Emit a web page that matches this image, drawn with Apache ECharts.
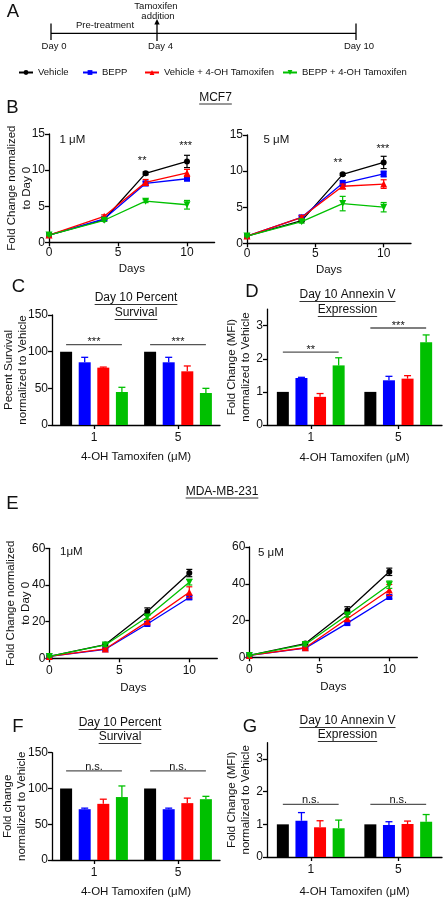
<!DOCTYPE html>
<html><head><meta charset="utf-8">
<script src="https://cdn.jsdelivr.net/npm/echarts@6/dist/echarts.min.js"></script>
<style>html,body{margin:0;padding:0;background:#fff}#c{width:444px;height:900px}</style>
</head><body><div id="c"></div>
<script>
// ---------------- DATA ----------------
const seriesNames = ['Vehicle', 'BEPP', 'Vehicle + 4-OH Tamoxifen', 'BEPP + 4-OH Tamoxifen'];
const days = [0, 4, 7, 10];
const dayTicks = [0, 5, 10];
const doseCategories = ['1', '5'];

// MCF7, 1 uM (panel B left)
const mcf7_1uM_vehicle = [1, 3.15, 9.55, 11.2];
const mcf7_1uM_bepp = [1, 3.25, 8.15, 8.8];
const mcf7_1uM_vehTam = [1, 3.6, 8.3, 9.6];
const mcf7_1uM_beppTam = [1, 3.05, 5.7, 5.2];
const mcf7_1uM_vehicleErr = [0.1, 0.15, 0.2, 0.85];
const mcf7_1uM_beppErr = [0.1, 0.15, 0.3, 0.2];
const mcf7_1uM_vehTamErr = [0.1, 0.2, 0.4, 0.5];
const mcf7_1uM_beppTamErr = [0.1, 0.15, 0.2, 0.6];

// MCF7, 5 uM (panel B right)
const mcf7_5uM_vehicle = [1, 3.15, 9.55, 11.2];
const mcf7_5uM_bepp = [1, 3.6, 8.3, 9.6];
const mcf7_5uM_vehTam = [1, 3.6, 7.9, 8.2];
const mcf7_5uM_beppTam = [1, 3.0, 5.5, 5.0];
const mcf7_5uM_vehicleErr = [0.1, 0.15, 0.15, 0.85];
const mcf7_5uM_beppErr = [0.1, 0.2, 0.4, 0.4];
const mcf7_5uM_vehTamErr = [0.1, 0.25, 0.3, 0.6];
const mcf7_5uM_beppTamErr = [0.1, 0.2, 1.0, 0.65];

// MDA-MB-231, 1 uM (panel E left)
const mda_1uM_vehicle = [1, 7.5, 25.5, 46.5];
const mda_1uM_bepp = [1, 4.9, 18.7, 33.2];
const mda_1uM_vehTam = [1, 5.1, 20, 36];
const mda_1uM_beppTam = [1, 7.3, 22.5, 41.5];
const mda_1uM_vehicleErr = [0.3, 0.8, 2, 2];
const mda_1uM_beppErr = [0.3, 0.5, 1, 1];
const mda_1uM_vehTamErr = [0.3, 0.5, 1, 3];
const mda_1uM_beppTamErr = [0.3, 0.8, 1, 1.5];

// MDA-MB-231, 5 uM (panel E right)
const mda_5uM_vehicle = [1, 7.5, 25.5, 46.5];
const mda_5uM_bepp = [1, 5.0, 18.6, 32.8];
const mda_5uM_vehTam = [1, 5.2, 21, 36.6];
const mda_5uM_beppTam = [1, 7.0, 23, 39.5];
const mda_5uM_vehicleErr = [0.3, 0.8, 2, 2];
const mda_5uM_beppErr = [0.3, 0.5, 1, 1];
const mda_5uM_vehTamErr = [0.3, 0.5, 1, 3];
const mda_5uM_beppTamErr = [0.3, 0.8, 1, 2];

// Panel C: MCF7 day 10 percent survival (per dose: 1, 5)
const mcf7Surv_vehicle = [100, 100];
const mcf7Surv_bepp = [85.5, 85.5];
const mcf7Surv_vehTam = [78.2, 73.2];
const mcf7Surv_beppTam = [45, 43.6];
const mcf7Surv_vehicleErr = [0, 0];
const mcf7Surv_beppErr = [6.8, 6.8];
const mcf7Surv_vehTamErr = [0.8, 7.3];
const mcf7Surv_beppTamErr = [6.4, 6.4];

// Panel D: MCF7 day 10 Annexin V
const mcf7Anx_vehicle = [1, 1];
const mcf7Anx_bepp = [1.42, 1.35];
const mcf7Anx_vehTam = [0.85, 1.40];
const mcf7Anx_beppTam = [1.80, 2.50];
const mcf7Anx_vehicleErr = [0, 0];
const mcf7Anx_beppErr = [0.02, 0.12];
const mcf7Anx_vehTamErr = [0.10, 0.09];
const mcf7Anx_beppTamErr = [0.23, 0.22];

// Panel F: MDA-MB-231 day 10 percent survival
const mdaSurv_vehicle = [100, 100];
const mdaSurv_bepp = [71, 71];
const mdaSurv_vehTam = [78.5, 79.5];
const mdaSurv_beppTam = [88, 85];
const mdaSurv_vehicleErr = [0, 0];
const mdaSurv_beppErr = [1.5, 1.5];
const mdaSurv_vehTamErr = [6.5, 7];
const mdaSurv_beppTamErr = [15.5, 4];

// Panel G: MDA-MB-231 day 10 Annexin V
const mdaAnx_vehicle = [1, 1];
const mdaAnx_bepp = [1.11, 0.98];
const mdaAnx_vehTam = [0.91, 1.01];
const mdaAnx_beppTam = [0.88, 1.08];
const mdaAnx_vehicleErr = [0, 0];
const mdaAnx_beppErr = [0.25, 0.1];
const mdaAnx_vehTamErr = [0.2, 0.09];
const mdaAnx_beppTamErr = [0.25, 0.22];

// Significance annotations: [x, level] with label
const starsB1 = [[6.75, 11.5], [9.9, 13.5]];
const starsB1Text = ['**', '***'];
const starsB2 = [[6.65, 11.3], [9.95, 13.3]];
const starsB2Text = ['**', '***'];
const sigC = [[0, 109.5], [1, 109.5]];
const sigCText = ['***', '***'];
const sigD = [[0, 2.2], [1, 2.93]];
const sigDText = ['**', '***'];
const sigF = [[0, 124.5], [1, 124.5]];
const sigFText = ['n.s.', 'n.s.'];
const sigG = [[0, 1.61], [1, 1.61]];
const sigGText = ['n.s.', 'n.s.'];

// ---------------- STYLE ----------------
const FONT = '"Liberation Sans", Arial, Helvetica, sans-serif';
const TXT = '#111111';
const colors = ['#000000', '#0000ff', '#ff0000', '#00c000'];
const symbols = ['circle', 'rect', 'triangle', 'path://M0,0L10,0L5,9Z'];
const symbolSizes = [6, 6, 7, 7];
const BAR_W = 12, BAR_GAP = 0.55;

const grids = [
  {left: 49, top: 134, width: 165.6, height: 108.3},   // B left
  {left: 247, top: 135, width: 164, height: 108.3},    // B right
  {left: 52, top: 315, width: 168, height: 110},       // C
  {left: 267, top: 309.1, width: 175, height: 115.9},  // D
  {left: 49.3, top: 548.3, width: 168, height: 110},   // E left
  {left: 249.3, top: 547, width: 168, height: 110.3},  // E right
  {left: 52, top: 752.7, width: 168, height: 108},     // F
  {left: 267, top: 742.7, width: 175, height: 116.6}   // G
];

const axisLine = {show: true, lineStyle: {color: '#000', width: 1.3}};
const axisTick = {show: true, length: 4, lineStyle: {color: '#000', width: 1.3}};
const labelStyle = {fontSize: 12, color: TXT, fontFamily: FONT};
const nameStyle = {fontSize: 11.5, color: TXT, fontFamily: FONT, lineHeight: 15};

const xAxes = [], yAxes = [], series = [];

function addYAxis(gi, max, interval, ticks, name, gap, lh) {
  const ax = {
    type: 'value', gridIndex: gi, min: 0, max: max, interval: interval,
    axisLine: axisLine, axisTick: Object.assign({}, axisTick), splitLine: {show: false},
    axisLabel: Object.assign({margin: 4}, labelStyle),
    name: name, nameLocation: 'middle', nameGap: gap, nameMoveOverlap: false,
    nameTextStyle: Object.assign({}, nameStyle, {lineHeight: lh || 15})
  };
  if (ticks) { ax.axisLabel.customValues = ticks; ax.axisTick.customValues = ticks; }
  yAxes.push(ax);
}

function addDayXAxis(gi, gap, margin) {
  xAxes.push({
    type: 'value', gridIndex: gi, min: 0, max: 12, interval: 5,
    axisLine: axisLine,
    axisTick: Object.assign({}, axisTick, {customValues: dayTicks}),
    axisLabel: Object.assign({margin: margin, customValues: dayTicks}, labelStyle),
    splitLine: {show: false},
    name: 'Days', nameLocation: 'middle', nameGap: gap, nameMoveOverlap: false, nameTextStyle: nameStyle
  });
}

function addDoseXAxis(gi, gap) {
  xAxes.push({
    type: 'category', gridIndex: gi, data: doseCategories,
    axisLine: axisLine, axisTick: Object.assign({alignWithLabel: true}, axisTick),
    axisLabel: Object.assign({margin: 7}, labelStyle),
    name: '4-OH Tamoxifen (\u03bcM)', nameLocation: 'middle', nameGap: gap, nameMoveOverlap: false,
    nameTextStyle: nameStyle
  });
}

function errorBarRender(color, capW) {
  return function (params, api) {
    const x = api.value(0), y = api.value(1), e = api.value(2);
    const top = api.coord([x, y + e]), bot = api.coord([x, y - e]);
    const st = {stroke: color, lineWidth: 1.2};
    return {type: 'group', children: [
      {type: 'line', shape: {x1: top[0], y1: top[1], x2: bot[0], y2: bot[1]}, style: st},
      {type: 'line', shape: {x1: top[0] - capW, y1: top[1], x2: top[0] + capW, y2: top[1]}, style: st},
      {type: 'line', shape: {x1: bot[0] - capW, y1: bot[1], x2: bot[0] + capW, y2: bot[1]}, style: st}
    ]};
  };
}

function addLineSeries(gi, vals, errs) {
  vals.forEach(function (v, i) {
    series.push({
      type: 'line', name: seriesNames[i], xAxisIndex: gi, yAxisIndex: gi,
      data: days.map(function (d, k) { return [d, v[k]]; }),
      symbol: symbols[i], symbolSize: symbolSizes[i], showSymbol: true,
      lineStyle: {color: colors[i], width: 1.3}, itemStyle: {color: colors[i]},
      z: 3 + i, animation: false, silent: true
    });
    series.push({
      type: 'custom', xAxisIndex: gi, yAxisIndex: gi,
      data: days.map(function (d, k) { return [d, v[k], errs[i][k]]; }),
      encode: {x: 0, y: 1},
      renderItem: errorBarRender(colors[i], 3), z: 3 + i, animation: false, silent: true
    });
  });
}

function barOffset(i) { return (i - 1.5) * BAR_W * (1 + BAR_GAP); }

function addBarSeries(gi, vals, errs) {
  vals.forEach(function (v, i) {
    series.push({
      type: 'bar', name: seriesNames[i], xAxisIndex: gi, yAxisIndex: gi, data: v,
      barWidth: BAR_W, barGap: (BAR_GAP * 100) + '%', itemStyle: {color: colors[i]},
      animation: false, silent: true
    });
    series.push({
      type: 'custom', xAxisIndex: gi, yAxisIndex: gi,
      data: v.map(function (val, k) { return [k, val, errs[i][k]]; }),
      encode: {x: 0, y: 1}, z: 1, animation: false, silent: true,
      renderItem: function (params, api) {
        const e = api.value(2);
        if (!e) return null;
        const c = api.coord([api.value(0), api.value(1)]);
        const t = api.coord([api.value(0), api.value(1) + e]);
        const x = c[0] + barOffset(i);
        const st = {stroke: colors[i], lineWidth: 1.3};
        return {type: 'group', children: [
          {type: 'line', shape: {x1: x, y1: c[1], x2: x, y2: t[1]}, style: st},
          {type: 'line', shape: {x1: x - 3.5, y1: t[1], x2: x + 3.5, y2: t[1]}, style: st}
        ]};
      }
    });
  });
}

function addSig(gi, data, texts) {
  series.push({
    type: 'custom', xAxisIndex: gi, yAxisIndex: gi, data: data, encode: {x: 0, y: 1},
    animation: false, silent: true, z: 6,
    renderItem: function (params, api) {
      const c = api.coord([api.value(0), api.value(1)]);
      const txt = texts[params.dataIndex];
      const ns = txt === 'n.s.';
      return {type: 'group', children: [
        {type: 'line', shape: {x1: c[0] + barOffset(0), y1: c[1], x2: c[0] + barOffset(3), y2: c[1]},
          style: {stroke: '#555', lineWidth: 1.3}},
        {type: 'text', x: c[0], y: ns ? c[1] + 1.5 : c[1] - 8,
          style: {text: txt, fontSize: 11, fontFamily: FONT, fill: TXT,
            align: 'center', verticalAlign: ns ? 'bottom' : 'top',
            textAlign: 'center', textVerticalAlign: ns ? 'bottom' : 'top'}}
      ]};
    }
  });
}

function addStars(gi, data, texts) {
  series.push({
    type: 'custom', xAxisIndex: gi, yAxisIndex: gi, data: data, encode: {x: 0, y: 1},
    animation: false, silent: true, z: 6,
    renderItem: function (params, api) {
      const c = api.coord([api.value(0), api.value(1)]);
      return {type: 'text', x: c[0], y: c[1] - 4,
        style: {text: texts[params.dataIndex], fontSize: 11, fontFamily: FONT, fill: TXT,
          align: 'center', verticalAlign: 'top', textAlign: 'center', textVerticalAlign: 'top'}};
    }
  });
}

// ---- Build panels ----
const growthName = 'Fold Change normalized\nto Day 0';
// B left
addDayXAxis(0, 19, 4); addYAxis(0, 15, 5, null, growthName, 15);
addLineSeries(0, [mcf7_1uM_vehicle, mcf7_1uM_bepp, mcf7_1uM_vehTam, mcf7_1uM_beppTam],
  [mcf7_1uM_vehicleErr, mcf7_1uM_beppErr, mcf7_1uM_vehTamErr, mcf7_1uM_beppTamErr]);
addStars(0, starsB1, starsB1Text);
// B right
addDayXAxis(1, 19, 4); addYAxis(1, 15, 5, null, '', 15);
addLineSeries(1, [mcf7_5uM_vehicle, mcf7_5uM_bepp, mcf7_5uM_vehTam, mcf7_5uM_beppTam],
  [mcf7_5uM_vehicleErr, mcf7_5uM_beppErr, mcf7_5uM_vehTamErr, mcf7_5uM_beppTamErr]);
addStars(1, starsB2, starsB2Text);
// C
addDoseXAxis(2, 24); addYAxis(2, 150, 50, null, 'Pecent Survival\nnormalized to Vehicle', 22, 14);
addBarSeries(2, [mcf7Surv_vehicle, mcf7Surv_bepp, mcf7Surv_vehTam, mcf7Surv_beppTam],
  [mcf7Surv_vehicleErr, mcf7Surv_beppErr, mcf7Surv_vehTamErr, mcf7Surv_beppTamErr]);
addSig(2, sigC, sigCText);
// D
addDoseXAxis(3, 25); addYAxis(3, 3.5, 1, [0, 1, 2, 3], 'Fold Change (MFI)\nnormalized to Vehicle', 14.5, 14);
addBarSeries(3, [mcf7Anx_vehicle, mcf7Anx_bepp, mcf7Anx_vehTam, mcf7Anx_beppTam],
  [mcf7Anx_vehicleErr, mcf7Anx_beppErr, mcf7Anx_vehTamErr, mcf7Anx_beppTamErr]);
addSig(3, sigD, sigDText);
// E left
addDayXAxis(4, 22, 6); addYAxis(4, 60, 20, null, growthName, 16);
addLineSeries(4, [mda_1uM_vehicle, mda_1uM_bepp, mda_1uM_vehTam, mda_1uM_beppTam],
  [mda_1uM_vehicleErr, mda_1uM_beppErr, mda_1uM_vehTamErr, mda_1uM_beppTamErr]);
// E right
addDayXAxis(5, 22, 6); addYAxis(5, 60, 20, null, '', 16);
addLineSeries(5, [mda_5uM_vehicle, mda_5uM_bepp, mda_5uM_vehTam, mda_5uM_beppTam],
  [mda_5uM_vehicleErr, mda_5uM_beppErr, mda_5uM_vehTamErr, mda_5uM_beppTamErr]);
// F
addDoseXAxis(6, 24); addYAxis(6, 150, 50, null, 'Fold change\nnormalized to Vehicle', 23, 14);
addBarSeries(6, [mdaSurv_vehicle, mdaSurv_bepp, mdaSurv_vehTam, mdaSurv_beppTam],
  [mdaSurv_vehicleErr, mdaSurv_beppErr, mdaSurv_vehTamErr, mdaSurv_beppTamErr]);
addSig(6, sigF, sigFText);
// G
addDoseXAxis(7, 27); addYAxis(7, 3.5, 1, [0, 1, 2, 3], 'Fold Change (MFI)\nnormalized to Vehicle', 14.5, 14);
addBarSeries(7, [mdaAnx_vehicle, mdaAnx_bepp, mdaAnx_vehTam, mdaAnx_beppTam],
  [mdaAnx_vehicleErr, mdaAnx_beppErr, mdaAnx_vehTamErr, mdaAnx_beppTamErr]);
addSig(7, sigG, sigGText);

// ---- Graphics: panel letters, titles, timeline ----
const measureCtx = document.createElement('canvas').getContext('2d');
function textW(t, size) { measureCtx.font = size + 'px ' + FONT; return measureCtx.measureText(t).width; }
function txt(t, x, y, size, align, vAlign, extra) {
  return Object.assign({type: 'text', x: x, y: y, silent: true,
    style: {text: t, fontSize: size, fontFamily: FONT, fill: TXT,
      align: align || 'center', verticalAlign: vAlign || 'middle',
      textAlign: align || 'center', textVerticalAlign: vAlign || 'middle'}}, extra || {});
}
function line(x1, y1, x2, y2, w, col) {
  return {type: 'line', silent: true, shape: {x1: x1, y1: y1, x2: x2, y2: y2}, style: {stroke: col || '#000', lineWidth: w || 1}};
}
const graphics = [];
function underlined(t, cx, cy, size) {
  graphics.push(txt(t, cx, cy, size));
  const w = textW(t, size);
  const uy = cy + size * 0.5 + 0.5;
  graphics.push(line(cx - w / 2, uy, cx + w / 2, uy, 1, '#333'));
}
// letters
[['A', 13, 12], ['B', 12.5, 108], ['C', 18.5, 287], ['D', 252, 291.5], ['E', 12.5, 504],
 ['F', 18, 727], ['G', 250, 727]].forEach(function (p) { graphics.push(txt(p[0], p[1], p[2], 18.5)); });
// timeline
graphics.push(line(51, 33.3, 356, 33.3, 1.3));
graphics.push(line(51, 23.5, 51, 40, 1.3));
graphics.push(line(356, 23.5, 356, 40, 1.3));
graphics.push(line(157, 41, 157, 23, 1.3));
graphics.push({type: 'polygon', silent: true, shape: {points: [[154.3, 24.5], [159.7, 24.5], [157, 19]]}, style: {fill: '#000'}});
graphics.push(txt('Pre-treatment', 105, 25.7, 9.5));
graphics.push(txt('Tamoxifen', 156, 6, 9.5));
graphics.push(txt('addition', 158, 16.7, 9.5));
graphics.push(txt('Day 0', 54, 46.7, 9.5));
graphics.push(txt('Day 4', 160.5, 46.7, 9.5));
graphics.push(txt('Day 10', 359, 46.7, 9.5));
// titles
underlined('MCF7', 215.5, 97.5, 12);
underlined('Day 10 Percent', 136, 298, 12);
underlined('Survival', 136, 313, 12);
underlined('Day 10 Annexin V', 347.5, 295, 12);
underlined('Expression', 347.5, 310, 12);
underlined('MDA-MB-231', 222, 491.5, 12);
underlined('Day 10 Percent', 120, 723, 12);
underlined('Survival', 120, 737, 12);
underlined('Day 10 Annexin V', 347.5, 721, 12);
underlined('Expression', 347.5, 735, 12);
// dose labels inside line panels
graphics.push(txt('1 \u03bcM', 59.5, 140, 11.5, 'left'));
graphics.push(txt('5 \u03bcM', 263.5, 140, 11.5, 'left'));
graphics.push(txt('1\u03bcM', 60, 552, 11.5, 'left'));
graphics.push(txt('5 \u03bcM', 258, 553, 11.5, 'left'));

const legendLefts = [18, 82, 144, 282];
const legends = seriesNames.map(function (n, i) {
  return {data: [n], left: legendLefts[i], top: 67.5, padding: 0, itemWidth: 14, itemHeight: 6,
    selectedMode: false, textStyle: {fontSize: 9.5, fontFamily: FONT, color: TXT}};
});

const chart = echarts.init(document.getElementById('c'), null, {renderer: 'canvas', width: 444, height: 900});
chart.setOption({
  animation: false,
  backgroundColor: '#ffffff',
  textStyle: {fontFamily: FONT},
  grid: grids,
  xAxis: xAxes,
  yAxis: yAxes,
  legend: legends,
  series: series,
  graphic: graphics
});
</script>
</body></html>
